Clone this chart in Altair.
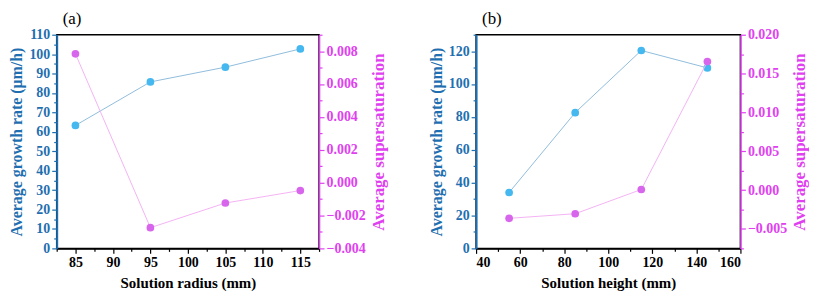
import altair as alt
import pandas as pd

# Panel (a)
radius = [85, 95, 105, 115]
growth_a = [63.3, 85.7, 93.3, 102.7]
super_a = [0.00784, -0.00274, -0.00124, -0.00048]

# Panel (b)
height_mm = [55, 85, 115, 145]
growth_b = [34.0, 82.6, 120.4, 109.8]
super_b = [-0.00363, -0.00304, 0.00008, 0.01654]

FONT = "Liberation Serif"
BLUE_AX = "#1f6fb0"
MAG_AX = "#e040f0"
BLUE_PT = "#45b8f0"
BLUE_LN = "#90bcdc"
MAG_PT = "#d866ec"
MAG_LN = "#f4b2f4"


def cond_size(test, major, minor):
    return {"condition": {"test": test, "value": major}, "value": minor}


def panel(xs, g, s, xdom, xvals, xmaj_test, xtitle,
          ldom, lvals, lmaj_test, rdom, rvals, rmaj_test, title, width):
    df = pd.DataFrame({"x": xs, "g": g, "s": s})
    base = alt.Chart(df)
    xaxis = alt.Axis(
        title=xtitle, values=xvals,
        labelExpr=f"({xmaj_test}) ? datum.label : ''",
        tickSize=cond_size(xmaj_test, 5, 3),
        domainColor="black", tickColor="black", labelColor="black",
        grid=False, titlePadding=6,
    )
    x = alt.X("x:Q", scale=alt.Scale(domain=xdom, nice=False, zero=False), axis=xaxis)

    laxis = alt.Axis(
        title="Average growth rate (μm/h)", orient="left", values=lvals,
        labelExpr=f"({lmaj_test}) ? datum.label : ''",
        tickSize=cond_size(lmaj_test, 5, 3),
        domainColor=BLUE_AX, tickColor=BLUE_AX, labelColor=BLUE_AX,
        titleColor=BLUE_AX, grid=False, titlePadding=4, domainWidth=2,
        titleFontSize=16,
    )
    raxis = alt.Axis(
        title="Average supersaturation", orient="right", values=rvals,
        format=".3f", titleAngle=270, titleBaseline="top",
        labelExpr=f"({rmaj_test}) ? datum.label : ''",
        tickSize=cond_size(rmaj_test, 5, 3),
        domainColor=MAG_AX, tickColor=MAG_AX, labelColor=MAG_AX,
        titleColor=MAG_AX, grid=False, titlePadding=5, domainWidth=1.5,
        titleFontSize=17,
    )
    yl = alt.Y("g:Q", scale=alt.Scale(domain=ldom, nice=False, zero=False), axis=laxis)
    yr = alt.Y("s:Q", scale=alt.Scale(domain=rdom, nice=False, zero=False), axis=raxis)

    s_line = base.mark_line(color=MAG_LN, strokeWidth=1).encode(x=x, y=yr)
    s_pt = base.mark_point(filled=True, color=MAG_PT, size=60, opacity=1).encode(x=x, y=yr)
    g_line = base.mark_line(color=BLUE_LN, strokeWidth=1).encode(x=x, y=yl)
    g_pt = base.mark_point(filled=True, color=BLUE_PT, size=60, opacity=1).encode(x=x, y=yl)

    right = alt.layer(s_line, s_pt)
    left = alt.layer(g_line, g_pt)
    return alt.layer(left, right).resolve_scale(y="independent").properties(
        width=width, height=215,
        title=alt.TitleParams(title, anchor="start", frame="group", dx=6,
                              font=FONT, fontSize=17, fontWeight="normal",
                              color="black", offset=0),
    )


xa_vals = [82.5 + 2.5 * i for i in range(15)]
la_vals = [5 * i for i in range(23)]
ra_vals = [round(-0.004 + 0.001 * i, 3) for i in range(14)]

xb_vals = [40 + 10 * i for i in range(13)]
lb_vals = [10 * i for i in range(14)]
rb_vals = [round(-0.0075 + 0.0025 * i, 4) for i in range(12)]

pa = panel(radius, growth_a, super_a, [82.5, 117.5], xa_vals,
           "datum.value % 5 === 0", "Solution radius (mm)",
           [0, 110], la_vals, "datum.value % 10 === 0",
           [-0.004, 0.009], ra_vals,
           "abs(round(datum.value * 1000)) % 2 === 0", "(a)", 264)

pb = panel(height_mm, growth_b, super_b, [40, 160], xb_vals,
           "datum.value % 20 === 0", "Solution height (mm)",
           [0, 130], lb_vals, "datum.value % 20 === 0",
           [-0.0075, 0.020], rb_vals,
           "abs(round(datum.value * 10000)) % 50 === 0", "(b)", 266)

chart = alt.hconcat(pa, pb, spacing=40).properties(
    padding=0, background="white"
).configure_view(
    stroke="black", strokeWidth=1.5
).configure_axis(
    labelFont=FONT, labelFontSize=14, labelFontWeight="bold",
    titleFont=FONT, titleFontSize=15, titleFontWeight="bold",
    labelPadding=2, tickWidth=1.2, domainWidth=1.5,
)

chart.save("out.html", embed_options={"renderer": "svg", "actions": False})
